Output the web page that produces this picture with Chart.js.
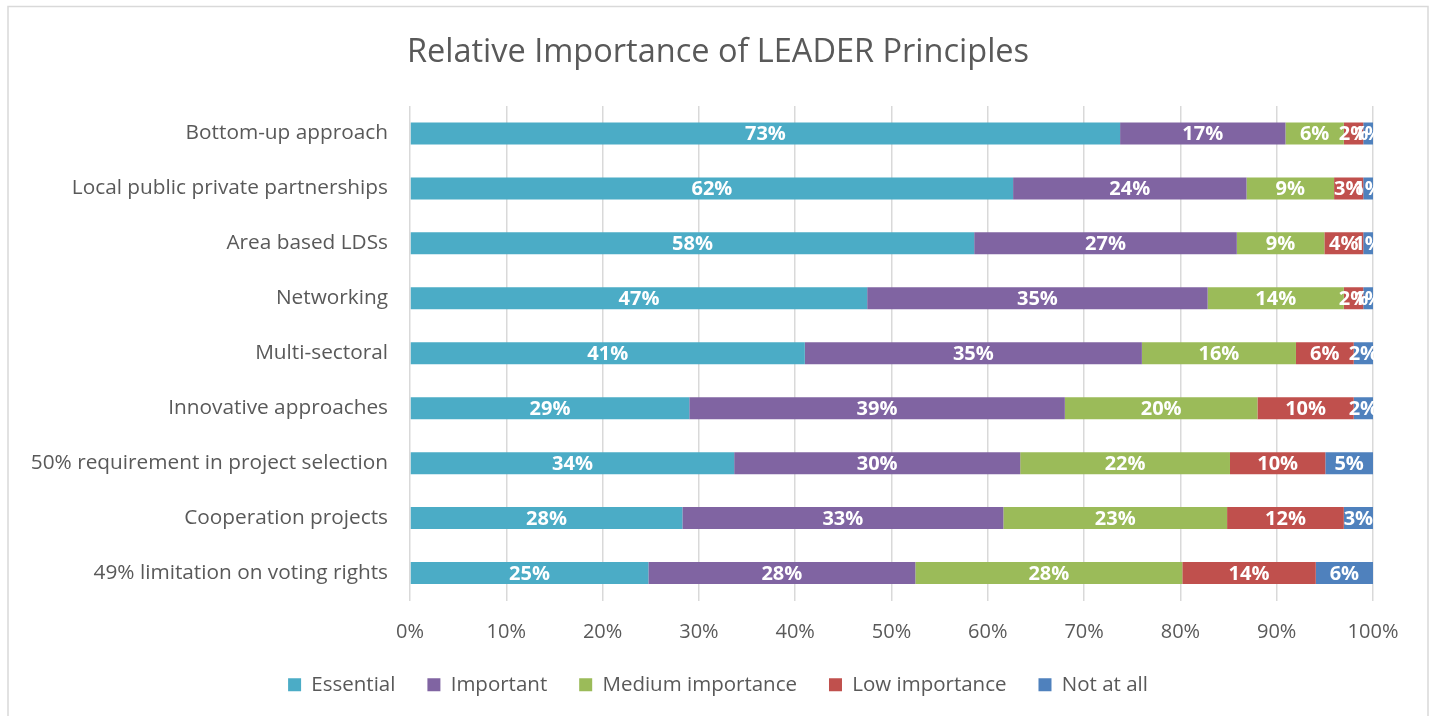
<!DOCTYPE html>
<html>
<head>
<meta charset="utf-8">
<script src="https://cdn.jsdelivr.net/npm/chart.js@4.4.1/dist/chart.umd.min.js"></script>
<style>
  html, body { margin: 0; padding: 0; background: #fff; }
  #wrap { position: relative; width: 1433px; height: 716px; }
</style>
</head>
<body>
<div id="wrap"><canvas id="chart"></canvas></div>
<script>
// Principles (top to bottom)
const categories = [
  'Bottom-up approach',
  'Local public private partnerships',
  'Area based LDSs',
  'Networking',
  'Multi-sectoral',
  'Innovative approaches',
  '50% requirement in project selection',
  'Cooperation projects',
  '49% limitation on voting rights'
];

// Survey shares (%) as labelled on the chart
const essential  = [73, 62, 58, 47, 41, 29, 34, 28, 25];
const important  = [17, 24, 27, 35, 35, 39, 30, 33, 28];
const medium     = [6, 9, 9, 14, 16, 20, 22, 23, 28];
const low        = [2, 3, 4, 2, 6, 10, 10, 12, 14];
const notAtAll   = [1, 1, 1, 1, 2, 2, 5, 3, 6];

const seriesNames = ['Essential', 'Important', 'Medium importance', 'Low importance', 'Not at all'];
const seriesColors = ['#4BACC6', '#8064A2', '#9BBB59', '#C0504D', '#4F81BD'];
const xTicks = [0, 10, 20, 30, 40, 50, 60, 70, 80, 90, 100];

const FONT = '"Open Sans", Lato, sans-serif';
const TEXT = '#595959';

// 100% stacked: normalise each row to its total
const allSeries = [essential, important, medium, low, notAtAll];
const rowTotals = categories.map((c, i) => allSeries.reduce((s, arr) => s + arr[i], 0));

const datasets = allSeries.map((arr, k) => ({
  label: seriesNames[k],
  data: arr.map((v, i) => v / rowTotals[i] * 100),
  raw: arr,
  backgroundColor: seriesColors[k],
  borderWidth: 0,
  barPercentage: 0.8,
  categoryPercentage: 0.5
}));

// Draw value labels in the middle of each segment
const valueLabels = {
  id: 'valueLabels',
  afterDatasetsDraw(chart) {
    const ctx = chart.ctx;
    ctx.save();
    ctx.font = 'bold 20px ' + FONT;
    ctx.fillStyle = '#ffffff';
    ctx.textAlign = 'center';
    ctx.textBaseline = 'middle';
    chart.data.datasets.forEach((ds, di) => {
      const meta = chart.getDatasetMeta(di);
      meta.data.forEach((bar, i) => {
        const p = bar.getProps(['x', 'y', 'base'], true);
        ctx.fillText(ds.raw[i] + '%', (p.x + p.base) / 2, p.y + 1);
      });
    });
    ctx.restore();
  }
};

// Outer chart frame
const frame = {
  id: 'frame',
  beforeDraw(chart) {
    const ctx = chart.ctx;
    ctx.save();
    ctx.strokeStyle = '#D9D9D9';
    ctx.lineWidth = 1.5;
    ctx.strokeRect(8, 6.5, 1420, 720);
    ctx.restore();
  }
};

new Chart(document.getElementById('chart'), {
  type: 'bar',
  data: { labels: categories, datasets: datasets },
  plugins: [valueLabels, frame],
  options: {
    indexAxis: 'y',
    responsive: true,
    maintainAspectRatio: false,
    animation: false,
    layout: { padding: { left: 63, right: 60, top: 0, bottom: 11 } },
    plugins: {
      title: {
        display: true,
        text: 'Relative Importance of LEADER Principles',
        color: TEXT,
        font: { family: FONT, size: 32.5, weight: 'normal' },
        padding: { top: 33, bottom: 34 }
      },
      legend: {
        position: 'bottom',
        labels: {
          color: TEXT,
          font: { family: FONT, size: 20.5 },
          boxWidth: 13,
          boxHeight: 13,
          padding: 32
        }
      },
      tooltip: { enabled: false }
    },
    scales: {
      x: {
        stacked: true,
        min: 0,
        max: 100,
        afterBuildTicks(scale) {
          scale.ticks = xTicks.map(v => ({ value: v }));
        },
        afterFit(scale) { scale.height = scale.height - 22; },
        ticks: {
          color: TEXT,
          font: { family: FONT, size: 20 },
          padding: 20,
          callback: v => v + '%'
        },
        grid: { color: '#D9D9D9', lineWidth: 1.5, drawTicks: false },
        border: { display: false }
      },
      y: {
        stacked: true,
        afterFit(scale) {
          scale.width = 347;
          // long labels run past the axis box; don't clip them
          scale._computeLabelArea = () => undefined;
        },
        ticks: {
          color: TEXT,
          font: { family: FONT, size: 20.8 },
          padding: 22
        },
        grid: { display: false, drawTicks: false },
        border: { display: false }
      }
    }
  }
});
</script>
</body>
</html>
